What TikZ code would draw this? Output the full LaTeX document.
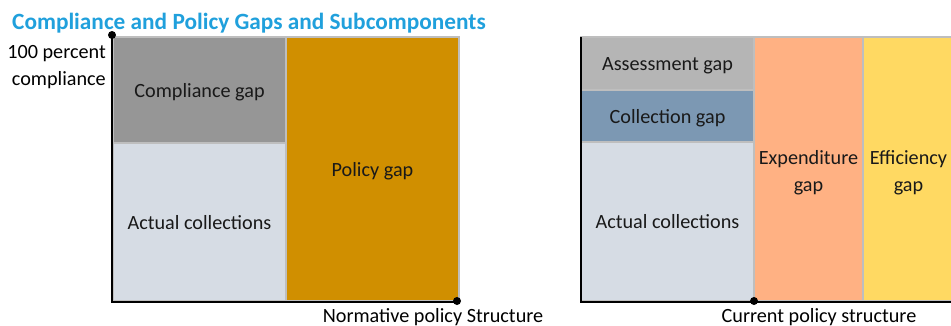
\documentclass[tikz,border=0pt]{standalone}
\usepackage{fontspec}
\setmainfont{Carlito}
\definecolor{titleblue}{RGB}{32,160,220}
\definecolor{cgray}{RGB}{150,150,150}
\definecolor{actual}{RGB}{214,220,228}
\definecolor{policy}{RGB}{208,143,0}
\definecolor{assess}{RGB}{181,181,181}
\definecolor{collect}{RGB}{124,152,179}
\definecolor{expend}{RGB}{255,177,131}
\definecolor{effic}{RGB}{255,217,98}
\definecolor{edge}{RGB}{190,190,190}
\begin{document}
\begin{tikzpicture}[x=1pt,y=-1pt,
  box/.style={draw=edge, line width=1.5pt, inner sep=0pt, outer sep=0pt, anchor=north west,
    font=\fontsize{20.2}{27}\selectfont, align=center, text=black!90, text height=14pt, text depth=0pt},
  axis/.style={line width=2.6pt, black},
  label/.style={font=\fontsize{20.2}{27}\selectfont, inner sep=0pt},
  dot/.style={circle, fill=black, inner sep=0pt, minimum size=8pt}]
\useasboundingbox (0,0) rectangle (951,325);
% title
\node[anchor=base west, inner sep=0pt, text=titleblue, font=\fontsize{23.3}{28}\selectfont\bfseries] (title) at (12,29) {Compliance and Policy Gaps and Subcomponents};
% left chart boxes
\node[box, fill=cgray, minimum width=173, minimum height=106] (cg) at (113,37) {Compliance gap};
\node[box, fill=actual, minimum width=173, minimum height=158] (ac1) at (113,143) {Actual collections};
\node[box, fill=policy, minimum width=173, minimum height=264] (pg) at (286,37) {Policy gap};
% right chart boxes
\node[box, fill=assess, minimum width=173, minimum height=53] (ag) at (581,37) {Assessment gap};
\node[box, fill=collect, minimum width=173, minimum height=52] (colg) at (581,90) {Collection gap};
\node[box, fill=actual, minimum width=173, minimum height=159] (ac2) at (581,142) {Actual collections};
\node[box, fill=expend, minimum width=109, minimum height=264] (eg) at (754,37) {};
\node[box, fill=effic, minimum width=94, minimum height=264] (efg) at (863,37) {};
\node[label, align=center, text=black!90] (egl) at (808.5,173) {Expenditure\\gap};
\node[label, align=center, text=black!90] (efgl) at (908.5,173) {Efficiency\\gap};
% axes
\coordinate (lt) at (112,35);
\coordinate (lo) at (112,302);
\coordinate (lr) at (457,302);
\coordinate (rt) at (581,37);
\coordinate (ro) at (581,302);
\coordinate (rr) at (960,302);
\draw[axis] (lt) -- (lo) -- (lr);
\draw[axis] (rt) -- (ro) -- (rr);
\node[dot] (d1) at (lt) {};
\node[dot] (d2) at (457,301) {};
\node[dot] (d3) at (754,301) {};
% axis labels
\node[label, align=right, anchor=base east] (hund) at (106,85) {100 percent\\compliance};
\node[label, anchor=base] (norm) at (433,322) {Normative policy Structure};
\node[label, anchor=base] (curr) at (819,322) {Current policy structure};
\end{tikzpicture}
\end{document}
